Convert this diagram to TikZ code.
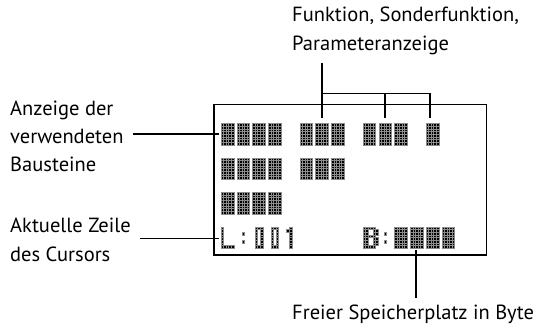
\documentclass[tikz,border=0pt]{standalone}
\usepackage{fontspec}
\setmainfont{PT Sans}
\newcommand\lcdblock[2]{%
  \foreach \i in {0,...,4}{\foreach \j in {0,...,7}{%
    \path[dotc] ({221+15.77*#1+\i*2.54},{123.3+34.47*#2+\j*2.7}) rectangle ++(2.54,2.7);}}}
\newcommand\lcdglyph[3]{%
  \foreach \i/\j in {#3}{%
    \path[dotc] ({221+15.77*#1+\i*2.54},{123.3+34.47*#2+\j*2.7}) rectangle ++(2.54,2.7);}}
\begin{document}
\begin{tikzpicture}[x=1pt,y=-1pt,
  lbl/.style={font=\fontsize{20.5}{24}\selectfont, inner sep=0pt, anchor=base west},
  dotc/.style={fill=black, draw=black!45, line width=0.35pt},
  lead/.style={draw=black, line width=1.1pt}]
\useasboundingbox (0,0) rectangle (541,328);
% display frame
\draw[lead] (214,104.5) rectangle (486.5,255);
% row 1
\foreach \c in {0,1,2,3,5,6,7,9,10,11,13}{\lcdblock{\c}{0}}
% row 2
\foreach \c in {0,1,2,3,5,6,7}{\lcdblock{\c}{1}}
% row 3
\foreach \c in {0,1,2,3}{\lcdblock{\c}{2}}
% row 4
\lcdglyph{0}{3}{0/0,0/1,0/2,0/3,0/4,0/5,0/6,0/7,1/7,2/7,3/7,4/7}
\lcdglyph{1}{3}{2/2,2/5}
\lcdglyph{2}{3}{1/0,1/1,1/2,1/3,1/4,1/5,1/6,1/7,3/0,3/1,3/2,3/3,3/4,3/5,3/6,3/7,2/0,2/7}
\lcdglyph{3}{3}{1/0,1/1,1/2,1/3,1/4,1/5,1/6,1/7,3/0,3/1,3/2,3/3,3/4,3/5,3/6,3/7,2/0,2/7}
\lcdglyph{4}{3}{1/1,2/0,2/1,2/2,2/3,2/4,2/5,2/6,2/7}
\lcdglyph{9}{3}{0/0,1/0,2/0,3/0,4/0,0/1,1/1,4/1,5/1,0/2,1/2,4/2,5/2,0/3,1/3,2/3,3/3,4/3,0/4,1/4,4/4,5/4,0/5,1/5,4/5,5/5,0/6,1/6,4/6,5/6,0/7,1/7,2/7,3/7,4/7}
\lcdglyph{10}{3}{2/2,2/5}
\foreach \c in {11,12,13,14}{\lcdblock{\c}{3}}
% labels
\node[lbl] (fk1) at (292,22) {Funktion, Sonderfunktion,};
\node[lbl] (fk2) at (292,51) {Parameteranzeige};
\node[lbl] (anz1) at (10,115.5) {Anzeige der};
\node[lbl] (anz2) at (10,143.5) {verwendeten};
\node[lbl] (anz3) at (10,171.5) {Bausteine};
\node[lbl] (akt1) at (10,233) {Aktuelle Zeile};
\node[lbl] (akt2) at (10,261.5) {des Cursors};
\node[lbl] (frei) at (292,320) {Freier Speicherplatz in Byte};
% leader coordinates
\coordinate (t0) at (322,63);
\coordinate (tj1) at (322,93.5);
\coordinate (tj2) at (385,93.5);
\coordinate (tj3) at (430,93.5);
\coordinate (te1) at (322,118);
\coordinate (te2) at (385,118);
\coordinate (te3) at (430,118);
\coordinate (ls1) at (133,134);
\coordinate (le1) at (219,134);
\coordinate (ls2) at (140,238.5);
\coordinate (le2) at (219,238.5);
\coordinate (bs) at (416,250);
\coordinate (be) at (416,298);
% leaders
\draw[lead] (t0) -- (te1);
\draw[lead] (tj1) -- (tj3) -- (te3);
\draw[lead] (tj2) -- (te2);
\draw[lead] (ls1) -- (le1);
\draw[lead] (ls2) -- (le2);
\draw[lead] (bs) -- (be);
\end{tikzpicture}
\end{document}
